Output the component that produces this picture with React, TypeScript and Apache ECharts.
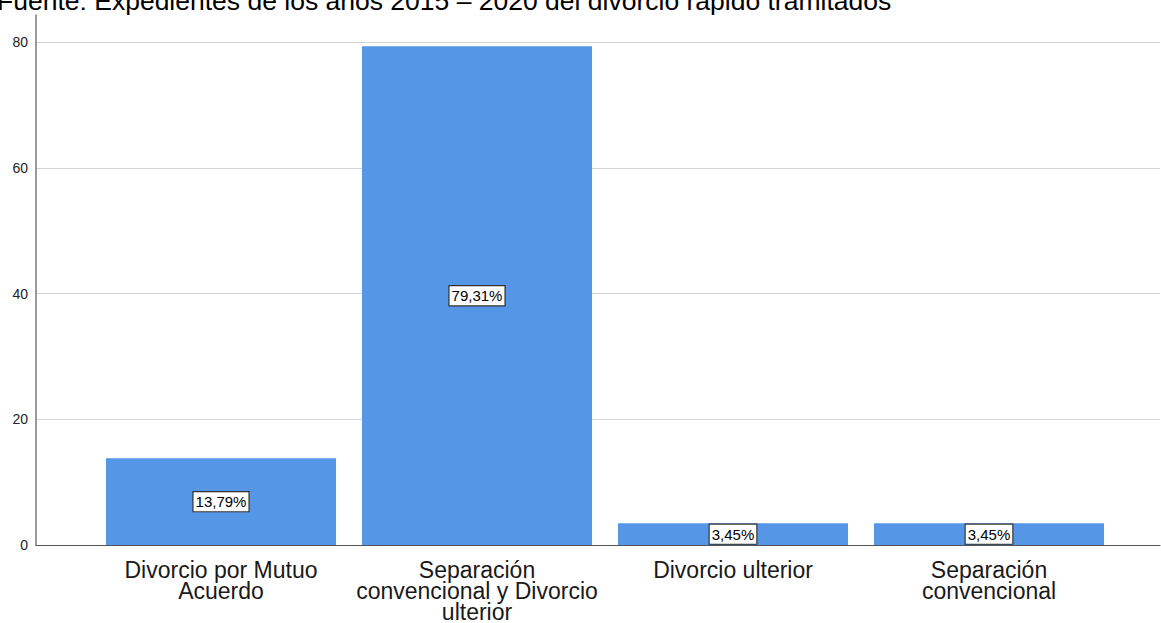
import React, { useEffect, useRef } from "react";
import * as echarts from "echarts";

const titleText = "Fuente: Expedientes de los años 2015 – 2020 del divorcio rápido tramitados";
const categories = [
  "Divorcio por Mutuo\nAcuerdo",
  "Separación\nconvencional y Divorcio\nulterior",
  "Divorcio ulterior",
  "Separación\nconvencional",
];
const percentages = [13.79, 79.31, 3.45, 3.45];
const yMax = 84.3;
const yInterval = 20;

export default function App() {
  const ref = useRef<HTMLDivElement>(null);
  useEffect(() => {
    if (!ref.current) return;
    const chart = echarts.init(ref.current, undefined, { renderer: "svg" });
    chart.setOption({
      animation: false,
      backgroundColor: "#ffffff",
      textStyle: { fontFamily: "Liberation Sans, Arial, sans-serif" },
      graphic: [
        {
          type: "text",
          left: -3,
          top: -13,
          style: {
            text: titleText,
            fontSize: 26.5,
            fill: "#000000",
            fontFamily: "Liberation Sans, Arial, sans-serif",
          },
        },
      ],
      grid: [
        { left: 36, right: 1, top: 15, bottom: 78, outerBoundsMode: "none", containLabel: false },
        { left: 93, right: 44, top: 15, bottom: 78, outerBoundsMode: "none", containLabel: false },
      ],
      xAxis: [
        {
          gridIndex: 0,
          type: "value",
          min: 0,
          max: 1,
          axisLine: { show: true, lineStyle: { color: "#555555", width: 1.2 } },
          axisTick: { show: false },
          axisLabel: { show: false },
          splitLine: { show: false },
        },
        {
          gridIndex: 1,
          type: "category",
          data: categories,
          axisLine: { show: false },
          axisTick: { show: false },
          axisLabel: {
            color: "#1a1a1a",
            fontSize: 23,
            lineHeight: 21,
            margin: 14,
            interval: 0,
          },
        },
      ],
      yAxis: [
        {
          gridIndex: 0,
          type: "value",
          min: 0,
          max: yMax,
          interval: yInterval,
          axisLine: { show: true, lineStyle: { color: "#7a7a7a", width: 1.5 } },
          axisTick: { show: false },
          axisLabel: { color: "#222222", fontSize: 14, margin: 8, showMaxLabel: false },
          splitLine: { show: true, showMaxLine: false, lineStyle: { color: "#d4d4d4", width: 1.2 } },
        },
        {
          gridIndex: 1,
          type: "value",
          min: 0,
          max: yMax,
          show: false,
          splitLine: { show: false },
        },
      ],
      series: [
        {
          type: "bar",
          xAxisIndex: 1,
          yAxisIndex: 1,
          data: percentages,
          barWidth: 230,
          itemStyle: { color: "#5596e6" },
          label: {
            show: true,
            position: "inside",
            formatter: (p: any) => p.value.toFixed(2).replace(".", ",") + "%",
            color: "#000000",
            fontSize: 15,
            backgroundColor: "#ffffff",
            borderColor: "#333333",
            borderWidth: 1.2,
            padding: [3, 2, 1, 2],
          },
        },
      ],
    });
    return () => chart.dispose();
  }, []);
  return <div ref={ref} style={{ width: 1161, height: 623, position: "absolute", left: 0, top: 0 }} />;
}
